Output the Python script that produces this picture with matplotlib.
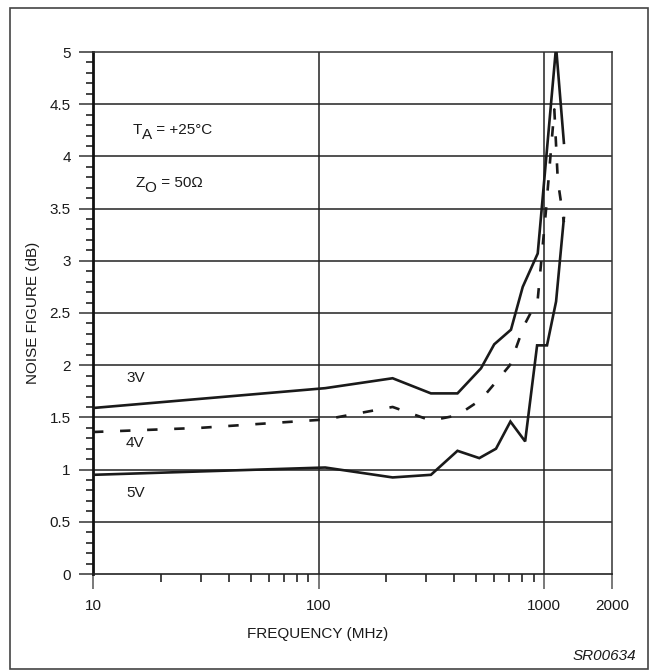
import matplotlib
matplotlib.use("Agg")
import matplotlib.pyplot as plt
from matplotlib.ticker import FixedLocator, NullFormatter, FixedFormatter
from matplotlib.patches import Rectangle
from matplotlib.transforms import offset_copy

plt.rcParams['font.family'] = ['Liberation Sans', 'DejaVu Sans']
plt.rcParams['lines.scale_dashes'] = False

# ---- data ----
freq_3v = [10, 107, 213, 315, 413, 525, 601, 713, 804, 937, 1130, 1224]
nf_3v = [1.59, 1.78, 1.875, 1.73, 1.73, 1.97, 2.20, 2.34, 2.75, 3.07, 5.05, 4.13]

freq_4v = [10, 30, 107, 213, 315, 413, 525, 601, 705, 815, 937, 1020, 1110, 1150, 1224]
nf_4v = [1.36, 1.40, 1.48, 1.60, 1.47, 1.52, 1.67, 1.82, 2.00, 2.38, 2.63, 3.49, 4.45, 3.77, 3.37]

freq_5v = [10, 107, 213, 315, 413, 516, 612, 709, 824, 931, 1030, 1130, 1224]
nf_5v = [0.95, 1.02, 0.925, 0.95, 1.18, 1.11, 1.20, 1.46, 1.27, 2.19, 2.19, 2.61, 3.41]

x_major = [10, 100, 1000, 2000]
x_major_labels = ['10', '100', '1000', '2000']
x_minor = [20, 30, 40, 50, 60, 70, 80, 90, 200, 300, 400, 500, 600, 700, 800, 900]
y_major = [0, 0.5, 1, 1.5, 2, 2.5, 3, 3.5, 4, 4.5, 5]
y_major_labels = ['0', '0.5', '1', '1.5', '2', '2.5', '3', '3.5', '4', '4.5', '5']
y_minor = [i / 10 for i in range(51) if i % 5 != 0]

FS = 11
TC = '#1a1a1a'

W, H = 654, 671
fig = plt.figure(figsize=(W / 100, H / 100), dpi=100)

ax_l, ax_r, ax_t, ax_b = 93, 612, 52, 574
ax = fig.add_axes([ax_l / W, 1 - ax_b / H, (ax_r - ax_l) / W, (ax_b - ax_t) / H])
ax.set_xscale('log')
ax.set_xlim(10, 2000)
ax.set_ylim(0, 5)

# grid
for yv in y_major[1:-1]:
    ax.axhline(yv, color='#222222', lw=1.1, zorder=1)
for xv in [100, 1000]:
    ax.axvline(xv, color='#222222', lw=1.1, zorder=1)

# curves
ax.plot(freq_3v, nf_3v, color=TC, lw=1.9, zorder=3, solid_joinstyle='miter')
ax.plot(freq_4v, nf_4v, color=TC, lw=1.9, zorder=3, dashes=(7.5, 12))
ax.plot(freq_5v, nf_5v, color=TC, lw=1.9, zorder=3, solid_joinstyle='miter')

# spines
ax.spines['left'].set_linewidth(2.0)
ax.spines['left'].set_color('#111111')
ax.spines['bottom'].set_linewidth(1.2)
ax.spines['bottom'].set_color('#222222')
for s in ['top', 'right']:
    ax.spines[s].set_linewidth(1.1)
    ax.spines[s].set_color('#333333')

# ticks
ax.xaxis.set_major_locator(FixedLocator(x_major))
ax.xaxis.set_major_formatter(FixedFormatter(x_major_labels))
ax.xaxis.set_minor_locator(FixedLocator(x_minor))
ax.xaxis.set_minor_formatter(NullFormatter())
ax.yaxis.set_major_locator(FixedLocator(y_major))
ax.yaxis.set_major_formatter(FixedFormatter(y_major_labels))
ax.yaxis.set_minor_locator(FixedLocator(y_minor))

ax.tick_params(axis='x', which='major', direction='out', length=11, width=1.1,
               color='#555555', labelsize=FS, pad=7, labelcolor=TC)
ax.tick_params(axis='x', which='minor', direction='out', length=6, width=1.1,
               color='#111111')
ax.tick_params(axis='y', which='major', direction='out', length=10, width=1.1,
               color='#333333', labelsize=FS, pad=6, labelcolor=TC)
ax.tick_params(axis='y', which='minor', direction='out', length=5, width=1.1,
               color='#111111')

# labels
fig.text(318 / W, 1 - 634 / H, 'FREQUENCY (MHz)', ha='center', va='center',
         fontsize=FS, color=TC)
fig.text(33 / W, 1 - 313 / H, 'NOISE FIGURE (dB)', ha='center', va='center',
         rotation=90, fontsize=FS, color=TC)

# annotations with full-size lowered subscripts
renderer = fig.canvas.get_renderer()


def sub_text(x, y, main, sub, rest):
    t1 = ax.text(x, y, main, ha='left', va='baseline', fontsize=FS, color=TC)
    w1 = t1.get_window_extent(renderer).width
    tr2 = offset_copy(ax.transData, fig=fig, x=w1 * 0.72, y=-5 * 0.72, units='points')
    t2 = ax.text(x, y, sub, ha='left', va='baseline', fontsize=FS, color=TC,
                 transform=tr2)
    w2 = t2.get_window_extent(renderer).width
    tr3 = offset_copy(ax.transData, fig=fig, x=(w1 + w2) * 0.72, y=0, units='points')
    ax.text(x, y, rest, ha='left', va='baseline', fontsize=FS, color=TC,
            transform=tr3)


sub_text(15.0, 4.21, 'T', 'A', ' = +25°C')
sub_text(15.4, 3.71, 'Z', 'O', ' = 50Ω')

ax.text(14.0, 1.88, '3V', ha='left', va='center', fontsize=FS, color=TC)
ax.text(14.0, 1.255, '4V', ha='left', va='center', fontsize=FS, color=TC)
ax.text(14.0, 0.776, '5V', ha='left', va='center', fontsize=FS, color=TC)

fig.text(636 / W, 1 - 656 / H, 'SR00634', ha='right', va='center',
         fontsize=FS, style='italic', color=TC)

# outer frame
fig.patches.append(Rectangle((10 / W, 1 - 669 / H), 638 / W, 661 / H,
                             transform=fig.transFigure, fill=False,
                             edgecolor='#444444', lw=1.2))

fig.savefig('out.png', dpi=100)
